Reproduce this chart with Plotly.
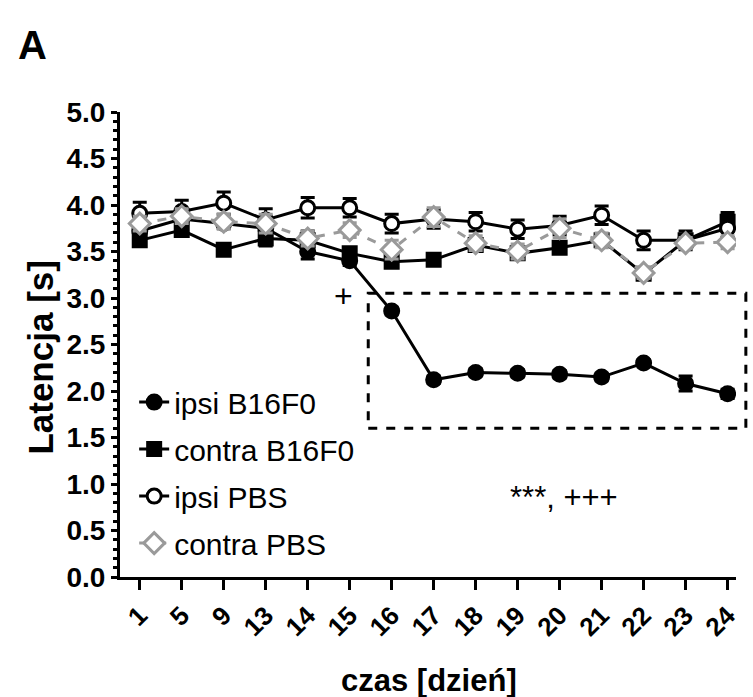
import plotly.graph_objects as go

days = ["1", "5", "9", "13", "14", "15", "16", "17", "18", "19", "20", "21", "22", "23", "24"]

ipsi_b16 = [3.72, 3.85, 3.80, 3.75, 3.50, 3.40, 2.86, 2.12, 2.20, 2.19, 2.18, 2.15, 2.30, 2.08, 1.97]
ipsi_b16_err = [0.05, 0.05, 0.05, 0.05, 0.08, 0.05, 0.04, 0.04, 0.04, 0.04, 0.04, 0.04, 0.04, 0.08, 0.05]

contra_b16 = [3.62, 3.73, 3.52, 3.64, 3.62, 3.48, 3.39, 3.41, 3.57, 3.48, 3.54, 3.62, 3.26, 3.62, 3.82]
contra_b16_err = [0.06, 0.06, 0.05, 0.08, 0.10, 0.05, 0.05, 0.04, 0.06, 0.06, 0.05, 0.05, 0.05, 0.06, 0.10]

ipsi_pbs = [3.91, 3.93, 4.02, 3.84, 3.97, 3.97, 3.80, 3.85, 3.82, 3.74, 3.78, 3.89, 3.62, 3.62, 3.75]
ipsi_pbs_err = [0.12, 0.12, 0.12, 0.12, 0.11, 0.10, 0.10, 0.10, 0.10, 0.10, 0.10, 0.10, 0.10, 0.10, 0.10]

contra_pbs = [3.80, 3.88, 3.82, 3.80, 3.64, 3.73, 3.52, 3.87, 3.59, 3.50, 3.75, 3.62, 3.27, 3.59, 3.60]
contra_pbs_err = [0.08, 0.08, 0.08, 0.10, 0.08, 0.08, 0.10, 0.10, 0.08, 0.08, 0.10, 0.08, 0.06, 0.06, 0.07]

labels = ["ipsi B16F0", "contra B16F0", "ipsi PBS", "contra PBS"]

FONT = "Arial, Liberation Sans, sans-serif"
GRAY = "#9a9a9a"

fig = go.Figure()


def add(name, y, err, symbol, mcolor, lcolor, fill, dash, size):
    fig.add_trace(go.Scatter(
        x=days, y=y, name=name, legendgroup=name,
        mode="lines+markers",
        line=dict(color=lcolor, width=3, dash=dash),
        marker=dict(symbol=symbol, size=size, color=fill,
                    line=dict(color=mcolor, width=3)),
        error_y=dict(type="data", array=err, visible=True,
                     color=lcolor, thickness=3, width=7),
    ))


add(labels[0], ipsi_b16, ipsi_b16_err, "circle", "black", "black", "black", "solid", 14)
add(labels[1], contra_b16, contra_b16_err, "square", "black", "black", "black", "solid", 13)
add(labels[2], ipsi_pbs, ipsi_pbs_err, "circle", "black", "black", "white", "solid", 14)
add(labels[3], contra_pbs, contra_pbs_err, "diamond", GRAY, GRAY, "white", "dash", 16)

fig.add_shape(type="rect", xref="paper", yref="y",
              x0=0.403, x1=1.016, y0=1.6, y1=3.05,
              line=dict(color="black", width=3, dash="dash"))

fig.add_annotation(text="+", xref="x", yref="y", x=4.85, y=3.02,
                   showarrow=False, font=dict(family=FONT, size=32, color="black"))
fig.add_annotation(text="***, +++", xref="x", yref="y", x=10.1, y=0.86,
                   showarrow=False, font=dict(family=FONT, size=31, color="black"))
fig.add_annotation(text="<b>A</b>", xref="paper", yref="paper", x=-0.142, y=1.144,
                   xanchor="center", yanchor="middle", showarrow=False,
                   font=dict(family=FONT, size=40, color="black"))
fig.add_annotation(text="<b>Latencja [s]</b>", xref="paper", yref="paper",
                   x=-0.129, y=0.473, textangle=-90,
                   xanchor="center", yanchor="middle", showarrow=False,
                   font=dict(family=FONT, size=35, color="black"))
fig.add_annotation(text="<b>czas [dzień]</b>", xref="paper", yref="paper",
                   x=0.502, y=-0.222,
                   xanchor="center", yanchor="middle", showarrow=False,
                   font=dict(family=FONT, size=31, color="black"))

fig.update_layout(
    width=753, height=697,
    margin=dict(l=120, r=13, t=112, b=120),
    paper_bgcolor="white", plot_bgcolor="white",
    font=dict(family=FONT, color="black"),
    showlegend=True,
    legend=dict(x=0.023, y=0.432, xanchor="left", yanchor="top",
                font=dict(family=FONT, size=30, color="black"),
                tracegroupgap=5, traceorder="grouped",
                bgcolor="rgba(0,0,0,0)", itemwidth=30),
    xaxis=dict(
        type="category", range=[-0.47, 14.2],
        showline=True, linecolor="black", linewidth=3,
        ticks="outside", ticklen=10, tickwidth=3, tickcolor="black",
        tickangle=-45, showgrid=False, zeroline=False,
        tickfont=dict(family=FONT, size=26, color="black", weight="bold"),
    ),
    yaxis=dict(
        range=[0, 5], dtick=0.5, tickformat=".1f",
        showline=True, linecolor="black", linewidth=3,
        ticks="outside", ticklen=6, tickwidth=3, tickcolor="black",
        minor=dict(dtick=0.1, ticks="outside", ticklen=4, tickwidth=3, tickcolor="black"),
        showgrid=False, zeroline=False,
        tickfont=dict(family=FONT, size=28, color="black", weight="bold"),
    ),
)

fig.write_html("out.html")
